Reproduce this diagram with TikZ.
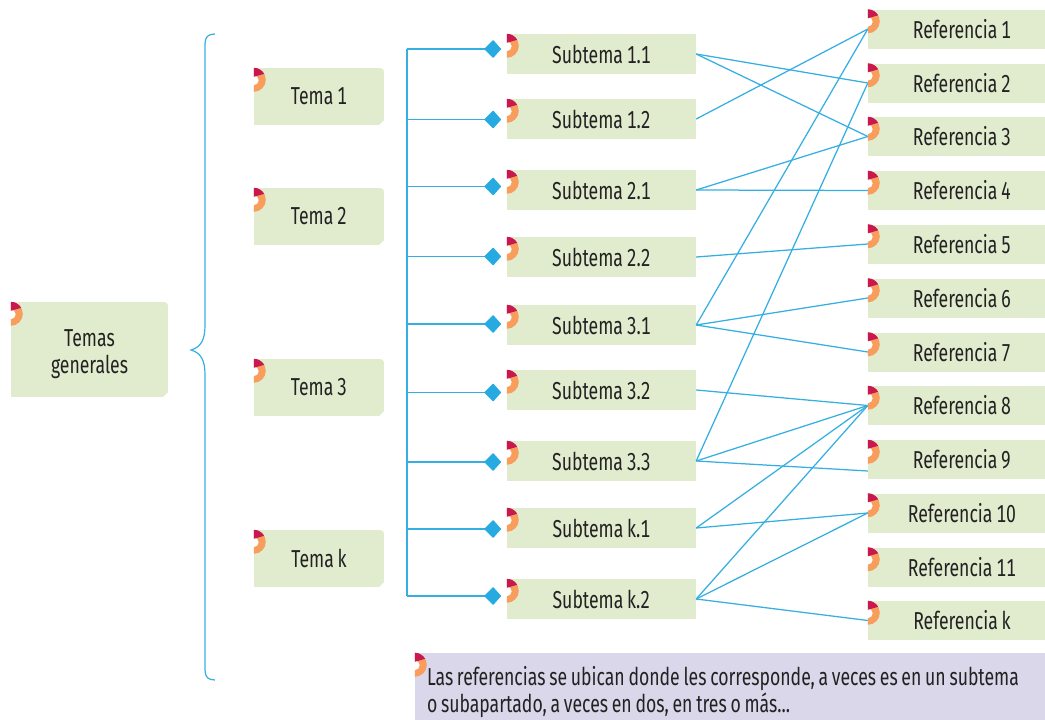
\documentclass[tikz,border=0pt]{standalone}
\usepackage{fontspec}
\setmainfont[FakeStretch=0.72,WordSpace=0.8,Numbers=Monospaced]{Fira Sans}
\usetikzlibrary{arrows.meta}
\definecolor{boxgreen}{HTML}{E1ECCF}
\definecolor{notebg}{HTML}{D9D7E9}
\definecolor{linkblue}{HTML}{35AEE2}
\definecolor{tipblue}{HTML}{27AAE1}
\definecolor{ringor}{HTML}{F99D5C}
\definecolor{wedge}{HTML}{C9184F}
\definecolor{txt}{HTML}{222222}
\tikzset{
  x=1pt,y=-1pt,
  every node/.style={font=\fontsize{24.5}{27}\selectfont,text=txt,inner sep=0pt,fill=boxgreen,align=flush center},
  topicbox/.style={minimum width=130pt,minimum height=57pt},
  rootbox/.style={minimum width=157pt,minimum height=95pt},
  subbox/.style={minimum width=189pt,minimum height=40pt},
  refbox/.style={minimum width=177pt,minimum height=39pt,execute at begin node={\hspace*{11pt}}},
  notebox/.style={fill=notebg,text width=606pt,inner xsep=12pt,minimum height=67pt,align=flush left},
  link/.style={draw=linkblue,line width=1.25pt},
  trunk/.style={draw=linkblue,line width=1.3pt},
  branch/.style={draw=linkblue,line width=1.25pt,-{Kite[length=17pt,width=18pt,inset=9pt,round,color=tipblue]}},
  brace/.style={draw=linkblue,line width=1.2pt},
  ringp/.style={fill=ringor},
  wedgep/.style={fill=wedge},
  cut/.style={fill=white},
}
\newcommand{\ornat}[1]{%
  \begin{scope}[shift={(#1.north west)}]
    \fill[white] (0,12.5) circle[radius=5pt];
    \fill[ringp] (0,0) arc[start angle=90,end angle=-90,radius=12pt] -- (0,17.5) arc[start angle=-90,end angle=90,radius=5pt] -- cycle;
    \fill[wedgep] (0,0) arc[start angle=90,end angle=30,radius=12pt] -- (0,9) -- cycle;
  \end{scope}}
\newcommand{\cutc}[1]{%
  \fill[cut] (#1.south east) ++(-5,0) -- ++(5,0) -- ++(0,-5) -- cycle;
  \fill[cut] (#1.north east) ++(-4,0) -- ++(4,0) -- ++(0,4) arc[start angle=0,end angle=90,radius=4pt] -- cycle;}
\begin{document}
\begin{tikzpicture}
\useasboundingbox (0,0) rectangle (1045,720);
% root and topics
\node[rootbox] (root) at (89.5,349.5) {\rule{0pt}{26pt}Temas\\generales};
\node[topicbox] (t1) at (319,96.5) {Tema 1};
\node[topicbox] (t2) at (319,216.5) {Tema 2};
\node[topicbox] (t3) at (319,387.5) {Tema 3};
\node[topicbox] (tk) at (319,558.5) {Tema k};
% subtopics
\node[subbox] (s1) at (601.5,54) {Subtema 1.1};
\node[subbox] (s2) at (601.5,119) {Subtema 1.2};
\node[subbox] (s3) at (601.5,190) {Subtema 2.1};
\node[subbox] (s4) at (601.5,257) {Subtema 2.2};
\node[subbox] (s5) at (601.5,325) {Subtema 3.1};
\node[subbox] (s6) at (601.5,390) {Subtema 3.2};
\node[subbox] (s7) at (601.5,461) {Subtema 3.3};
\node[subbox] (s8) at (601.5,528) {Subtema k.1};
\node[subbox] (s9) at (601.5,599) {Subtema k.2};
% references
\node[refbox] (r1) at (956.5,29) {Referencia 1};
\node[refbox] (r2) at (956.5,83) {Referencia 2};
\node[refbox] (r3) at (956.5,136.5) {Referencia 3};
\node[refbox] (r4) at (956.5,190.5) {Referencia 4};
\node[refbox] (r5) at (956.5,244) {Referencia 5};
\node[refbox] (r6) at (956.5,298) {Referencia 6};
\node[refbox] (r7) at (956.5,352) {Referencia 7};
\node[refbox] (r8) at (956.5,405.5) {Referencia 8};
\node[refbox] (r9) at (956.5,459.5) {Referencia 9};
\node[refbox] (r10) at (956.5,513) {Referencia 10};
\node[refbox] (r11) at (956.5,567) {Referencia 11};
\node[refbox] (r12) at (956.5,620.5) {Referencia k};
\node[notebox] (note) at (730,686.5) {\rule{0pt}{30pt}Las referencias se ubican donde les corresponde, a veces es en un subtema\\o subapartado, a veces en dos, en tres o más...};
% corner details
\foreach \n in {root,t1,t2,t3,tk} {\cutc{\n}}
% brace
\coordinate (bt) at (215,34);
\coordinate (bb) at (215,680);
\draw[brace] (bt) .. controls (208,34) and (205,37) .. (205,44) -- (205,325)
  .. controls (205,340) and (201,347) .. (191,350)
  .. controls (201,353) and (205,360) .. (205,375) -- (205,670)
  .. controls (205,677) and (208,680) .. (bb);
% trunk and branches
\coordinate (a1) at (501,49);
\coordinate (a2) at (501,119.5);
\coordinate (a3) at (501,186.5);
\coordinate (a4) at (501,256.5);
\coordinate (a5) at (501,324);
\coordinate (a6) at (501,392.5);
\coordinate (a7) at (501,462);
\coordinate (a8) at (501,529);
\coordinate (a9) at (501,596);
\coordinate (ttop) at (407,49);
\coordinate (tbot) at (407,596);
\draw[trunk] (ttop) -- (tbot);
\foreach \i in {1,...,9} {\draw[branch] (ttop |- a\i) -- (a\i);}
% links
\foreach \a/\b in {s1/r2,s1/r3,s2/r1,s3/r3,s3/r4,s4/r5,s5/r1,s5/r6,s5/r7,s6/r8,s7/r2,s7/r8,s8/r8,s8/r10,s9/r8,s9/r10,s9/r12}
  {\draw[link] (\a.east) -- (\b.west);}
\draw[link] (s7.east) -- ([yshift=-11.5pt]r9.west);
% ornaments
\foreach \n in {root,t1,t2,t3,tk,s1,s2,s3,s4,s5,s6,s7,s8,s9,r1,r2,r3,r4,r5,r6,r7,r8,r9,r10,r11,r12,note} {\ornat{\n}}
\end{tikzpicture}
\end{document}
